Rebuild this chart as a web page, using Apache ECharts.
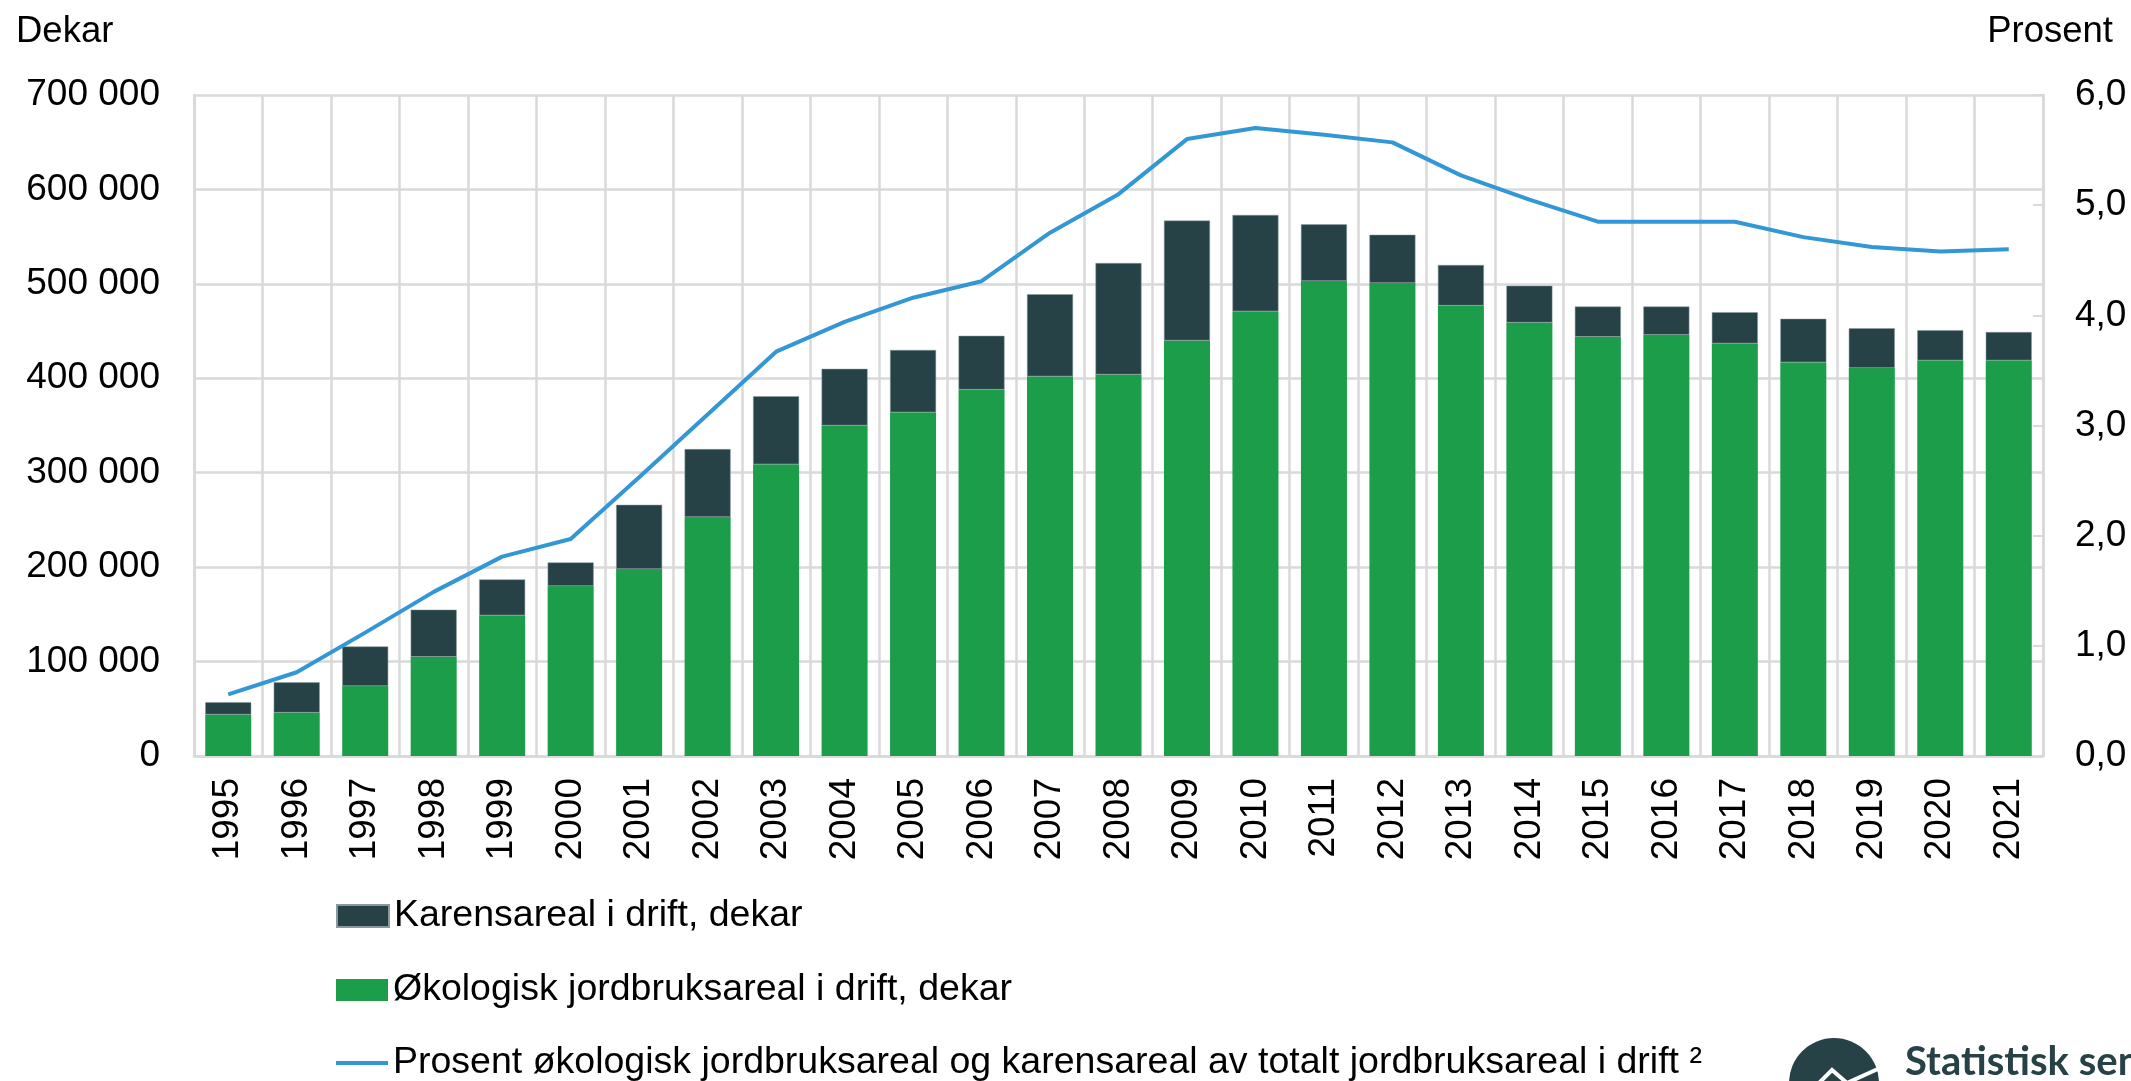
<!DOCTYPE html>
<html lang="no">

<head>
    <meta charset="UTF-8" />
    <title>Økologisk jordbruksareal</title>
    <style>
        html,
        body {
            margin: 0;
            padding: 0;
            background: #fff;
        }

        #chart {
            width: 2131px;
            height: 1081px;
        }
    </style>
</head>

<body>
    <div id="chart"></div>

    <script src="https://cdn.jsdelivr.net/npm/echarts@6/dist/echarts.min.js"></script>
    <script>
        // data
        const years = ['1995', '1996', '1997', '1998', '1999', '2000', '2001', '2002', '2003', '2004',
            '2005', '2006', '2007', '2008', '2009', '2010', '2011', '2012', '2013', '2014',
            '2015', '2016', '2017', '2018', '2019', '2020', '2021']

        // økologisk areal i drift, dekar
        const okologisk = [44000, 46000, 74000, 105000, 149000, 180000, 198000, 253000, 309000, 350000,
            364000, 388000, 402000, 404000, 440000, 471000, 503000, 501000, 477000, 459000,
            444000, 446000, 437000, 417000, 411000, 419000, 419000]

        // karensareal i drift, dekar
        const karens = [13000, 32000, 42000, 50000, 38000, 25000, 68000, 72000, 72000, 60000,
            66000, 57000, 87000, 118000, 127000, 102000, 60000, 51000, 43000, 39000,
            32000, 30000, 33000, 46000, 42000, 32000, 30000]

        // prosent av totalt jordbruksareal
        const prosent = [0.56, 0.76, 1.12, 1.49, 1.81, 1.97, 2.53, 3.10, 3.67, 3.94,
            4.16, 4.31, 4.75, 5.10, 5.60, 5.70, 5.64, 5.57, 5.27, 5.05,
            4.85, 4.85, 4.85, 4.71, 4.62, 4.58, 4.60]

        const names = ['Karensareal i drift, dekar',
            'Økologisk jordbruksareal i drift, dekar',
            'Prosent økologisk jordbruksareal og karensareal av totalt jordbruksareal i drift ²']

        const FONT = '"Liberation Sans", Arial, sans-serif'
        const GRID_COLOR = '#d9d9d9'
        const GREEN = '#1c9d4a'
        const DARK = '#274247'
        const BLUE = '#3397d6'

        function thousands (v) {
            return String(v).replace(/\B(?=(\d{3})+(?!\d))/g, ' ')
        }

        // one legend per row, so each can have its own icon size
        function legendRow (name, top, icon, h) {
            return {
                orient: 'vertical',
                left: 336,
                top: top,
                padding: 0,
                icon: icon,
                itemWidth: 52,
                itemHeight: h,
                textStyle: { fontFamily: FONT, fontSize: 37.5, color: '#000' },
                data: [name]
            }
        }

        var myChart = echarts.init(document.getElementById('chart'))

        var option = {
            backgroundColor: '#fff',
            animation: false,
            textStyle: { fontFamily: FONT },
            title: [
                { text: 'Dekar', left: 11, top: 8, textStyle: { fontFamily: FONT, fontSize: 36.5, fontWeight: 'normal', color: '#000' } },
                { text: 'Prosent', right: 13, top: 8, textStyle: { fontFamily: FONT, fontSize: 36.5, fontWeight: 'normal', color: '#000' } }
            ],
            grid: { left: 194, right: 88, top: 95, bottom: 325 },
            legend: [
                legendRow(names[0], 897, 'rect', 22),
                legendRow(names[1], 971, 'rect', 22),
                legendRow(names[2], 1044, 'rect', 4)
            ],
            xAxis: {
                type: 'category',
                data: years,
                axisLine: { lineStyle: { color: GRID_COLOR, width: 2.5 } },
                axisTick: { show: false },
                splitLine: { show: true, interval: 0, lineStyle: { color: GRID_COLOR, width: 2.5 } },
                axisLabel: { rotate: 90, interval: 0, margin: 22, fontSize: 37, color: '#000', fontFamily: FONT }
            },
            yAxis: [
                {
                    type: 'value',
                    min: 0,
                    max: 700000,
                    interval: 100000,
                    axisLine: { show: true, lineStyle: { color: GRID_COLOR, width: 2.5 } },
                    axisTick: { show: false },
                    splitLine: { lineStyle: { color: GRID_COLOR, width: 2.5 } },
                    axisLabel: { margin: 34, fontSize: 37, color: '#000', fontFamily: FONT, formatter: thousands }
                },
                {
                    type: 'value',
                    min: 0,
                    max: 6,
                    interval: 1,
                    position: 'right',
                    axisLine: { show: true, lineStyle: { color: GRID_COLOR, width: 2.5 } },
                    axisTick: { show: true, inside: true, length: 10, lineStyle: { color: GRID_COLOR, width: 2 } },
                    splitLine: { show: false },
                    axisLabel: {
                        margin: 32, fontSize: 37, color: '#000', fontFamily: FONT,
                        formatter: v => v.toFixed(1).replace('.', ',')
                    }
                }
            ],
            series: [
                {
                    name: names[1],
                    type: 'bar',
                    stack: 'areal',
                    barWidth: 46,
                    itemStyle: { color: GREEN },
                    data: okologisk
                },
                {
                    name: names[0],
                    type: 'bar',
                    stack: 'areal',
                    barWidth: 46,
                    itemStyle: { color: DARK, borderColor: '#8a9a9c', borderWidth: 0.5 },
                    data: karens
                },
                {
                    name: names[2],
                    type: 'line',
                    yAxisIndex: 1,
                    symbol: 'none',
                    lineStyle: { color: BLUE, width: 4 },
                    itemStyle: { color: BLUE },
                    data: prosent
                }
            ],
            // SSB logo, bottom right, cut by the page edge
            graphic: [
                { type: 'circle', shape: { cx: 1834, cy: 1083, r: 45 }, style: { fill: DARK } },
                {
                    type: 'polyline',
                    shape: { points: [[1812, 1090], [1832, 1070], [1847, 1083], [1880, 1068]] },
                    style: { stroke: '#fff', lineWidth: 4, fill: null }
                },
                {
                    type: 'text',
                    style: {
                        x: 1905, y: 1042, text: 'Statistisk sentralbyrå',
                        font: 'bold 40px Lato, "Open Sans", sans-serif', fill: DARK
                    }
                }
            ]
        }
        myChart.setOption(option)
    </script>
</body>

</html>
